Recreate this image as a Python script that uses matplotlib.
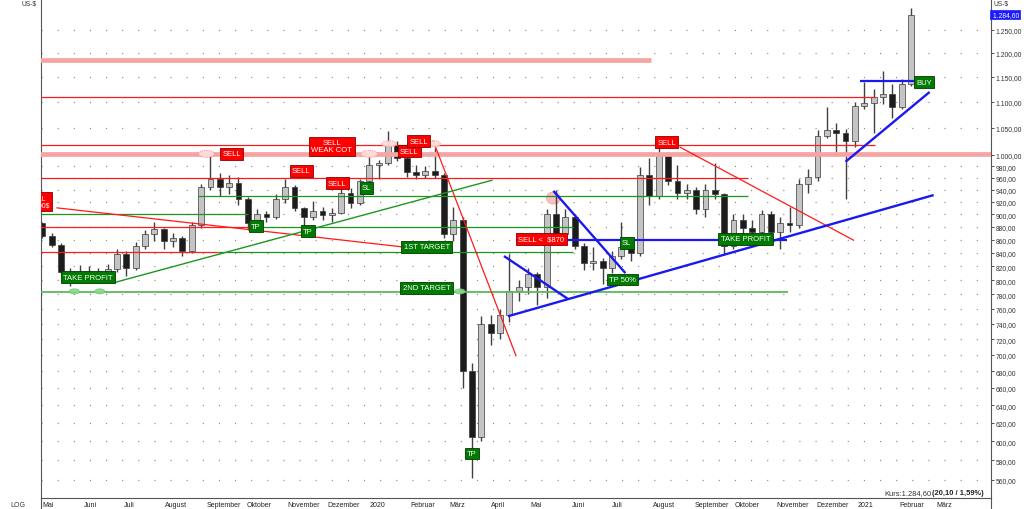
import numpy as np
import pandas as pd
import matplotlib
matplotlib.use('Agg')
import matplotlib.pyplot as plt
import matplotlib.dates as mdates
from matplotlib.patches import Ellipse
from matplotlib.transforms import ScaledTranslation, blended_transform_factory
from matplotlib.ticker import NullLocator, FixedLocator, FuncFormatter
from matplotlib.lines import Line2D

plt.rcParams['font.family'] = ['Liberation Sans', 'DejaVu Sans']

# ---------------- data (weekly OHLC, platinum US-$) ----------------
week_dates = pd.date_range('2019-05-01', periods=94, freq='7D')
opens = [885, 866, 852, 812, 803, 812, 806, 810, 816, 838, 818, 850, 868, 876, 858, 862, 842, 882, 945, 958,
         945, 952, 925, 885, 900, 895, 925, 945, 910, 895, 905, 898, 902, 935, 918, 955, 982, 985, 1018, 995,
         970, 965, 972, 965, 868, 890, 680, 605, 740, 728, 752, 785, 790, 808, 790, 900, 868, 895, 850, 825,
         828, 818, 835, 848, 840, 965, 930, 1000, 955, 935, 940, 908, 940, 932, 850, 890, 878, 872, 900, 872,
         885, 882, 950, 962, 1035, 1045, 1040, 1025, 1092, 1098, 1110, 1115, 1090, 1135]
highs = [888, 870, 854, 818, 822, 820, 818, 824, 846, 842, 856, 874, 888, 878, 870, 865, 888, 950, 1006, 968,
         965, 962, 928, 908, 905, 932, 958, 948, 912, 922, 912, 910, 945, 942, 958, 1002, 992, 1043, 1025, 998,
         982, 980, 1012, 968, 912, 895, 690, 750, 752, 760, 838, 800, 818, 812, 908, 940, 908, 900, 855, 848,
         832, 842, 888, 862, 978, 995, 1018, 1005, 982, 950, 945, 950, 986, 935, 900, 900, 890, 906, 905, 895,
         912, 958, 975, 1045, 1090, 1058, 1048, 1100, 1140, 1125, 1162, 1135, 1145, 1300]
lows = [862, 848, 808, 792, 798, 800, 800, 802, 812, 806, 815, 845, 858, 845, 848, 835, 840, 878, 940, 930,
        932, 915, 875, 880, 888, 892, 918, 905, 870, 890, 890, 888, 900, 910, 915, 952, 958, 982, 990, 962,
        958, 960, 960, 862, 858, 660, 562, 600, 712, 720, 742, 770, 780, 765, 775, 858, 855, 845, 815, 815,
        795, 810, 830, 828, 835, 915, 925, 948, 925, 925, 900, 895, 925, 838, 845, 868, 862, 865, 865, 845,
        872, 878, 935, 955, 1030, 1005, 925, 1015, 1085, 1040, 1095, 1068, 1085, 1132]
closes = [866, 852, 812, 803, 812, 806, 810, 816, 838, 818, 850, 868, 876, 858, 862, 842, 882, 945, 958, 945,
          952, 925, 885, 900, 895, 925, 945, 910, 895, 905, 898, 902, 935, 918, 955, 982, 985, 1018, 995, 970,
          965, 972, 965, 868, 890, 680, 605, 740, 728, 752, 785, 790, 808, 790, 900, 868, 895, 850, 825, 828,
          818, 835, 848, 840, 965, 930, 1000, 955, 935, 940, 908, 940, 932, 850, 890, 878, 872, 900, 872, 885,
          882, 950, 962, 1035, 1045, 1040, 1025, 1092, 1098, 1110, 1115, 1090, 1135, 1284.6]

y_ticks = [560, 580, 600, 620, 640, 660, 680, 700, 720, 740, 760, 780, 800, 820, 840, 860, 880, 900,
           920, 940, 960, 980, 1000, 1050, 1100, 1150, 1200, 1250]
month_ticks = ['2019-05-01', '2019-06-01', '2019-07-01', '2019-08-01', '2019-09-01', '2019-10-01',
               '2019-11-01', '2019-12-01', '2020-01-01', '2020-02-01', '2020-03-01', '2020-04-01',
               '2020-05-01', '2020-06-01', '2020-07-01', '2020-08-01', '2020-09-01', '2020-10-01',
               '2020-11-01', '2020-12-01', '2021-01-01', '2021-02-01', '2021-03-01']
month_labels = ['Mai', 'Juni', 'Juli', 'August', 'September', 'Oktober', 'November', 'Dezember', '2020',
                'Februar', 'März', 'April', 'Mai', 'Juni', 'Juli', 'August', 'September', 'Oktober',
                'November', 'Dezember', '2021', 'Februar', 'März']

# horizontal levels: (price, start, end)
red_levels = [(1110, '2019-04-20', '2021-01-14'), (1018, '2019-04-20', '2021-01-14'),
              (960, '2019-04-20', '2020-10-11'), (880, '2019-04-20', '2019-10-02'),
              (841, '2019-04-20', '2019-09-10')]
band_levels = [(1185, '2019-04-20', '2020-07-30'), (1001, '2019-04-20', '2021-05-01')]
green_levels = [(929, '2019-08-26', '2020-10-11'), (900, '2019-04-20', '2019-10-02'),
                (880, '2019-10-02', '2020-06-02'), (841, '2019-09-10', '2020-06-02')]
light_green_levels = [(783, '2019-04-20', '2020-11-10')]
blue_levels = [(860, '2020-04-20', '2020-11-09'), (1142, '2021-01-03', '2021-02-12')]

# trend lines: (start date, start price, end date, end price)
red_trends = [('2019-05-12', 910, '2020-01-25', 849), ('2020-02-18', 1025, '2020-04-20', 699),
              ('2020-08-21', 1014, '2020-12-29', 859)]
green_trends = [('2019-06-25', 797, '2020-04-02', 956)]
blue_trends = [('2020-04-11', 835, '2020-05-29', 773.5), ('2020-04-14', 750, '2021-02-27', 931),
               ('2020-05-18', 938, '2020-07-11', 810), ('2020-12-23', 988, '2021-02-24', 1119)]

# signal boxes: (text, date, price, kind)
signals = [('SELL', '2019-09-20', 1002, 'r'), ('SELL', '2019-11-11', 972, 'r'),
           ('SELL\nWEAK COT', '2019-12-04', 1016, 'r'), ('SELL', '2019-12-08', 951, 'r'),
           ('SL', '2019-12-30', 943, 'g'), ('SELL', '2020-01-31', 1007, 'r'),
           ('SELL', '2020-02-07', 1025, 'r'), ('TP', '2019-10-08', 881, 'g'),
           ('TP', '2019-11-16', 873, 'g'), ('1ST TARGET', '2020-02-13', 849, 'g'),
           ('2ND TARGET', '2020-02-13', 789, 'g'), ('TAKE PROFIT', '2019-06-04', 804, 'g'),
           ('TP', '2020-03-18', 587, 'g'), ('SELL <  $870', '2020-05-09', 861, 'r'),
           ('SL', '2020-07-12', 855, 'g'), ('TP 50%', '2020-07-09', 801, 'g'),
           ('TAKE PROFIT', '2020-10-09', 861, 'g'), ('SELL', '2020-08-11', 1023, 'r'),
           ('BUY', '2021-02-20', 1139, 'g')]
clipped_signal = ('SELL\n< 1000$', '2019-04-27', 920)

# highlight ellipses: (date, price, width px, height px, kind)
marks = [('2019-09-01', 1002, 16, 7, 'r'), ('2020-01-01', 1002, 17, 7, 'r'),
         ('2020-01-16', 1020, 15, 6, 'r'), ('2020-02-19', 1020, 11, 6, 'r'),
         ('2019-05-25', 784, 10, 5, 'g'), ('2019-06-13', 784, 10, 5, 'g'),
         ('2020-03-09', 784, 10, 5, 'g')]
filled_marks = [('2020-05-18', 926, 14, 12)]

last_price = 1284.6

# ---------------- figure ----------------
W, H = 1024, 510
fig = plt.figure(figsize=(W / 100, H / 100), dpi=100)
fig.patch.set_facecolor('white')
ax = fig.add_axes([41 / W, 11 / H, 950 / W, 499 / H])
ax.set_yscale('log')

def d(s):
    return mdates.date2num(pd.Timestamp(s).to_pydatetime())

xs = mdates.date2num(week_dates.to_pydatetime())

RED = '#ff1a1a'
GREEN = '#1e961e'
BLUE = '#1a1af0'

# grid rows of dots
for v in y_ticks:
    ax.axhline(v, color='#8c8c8c', lw=0.9, ls=(0, (0.9, 12)), zorder=0.5)

# candles
for x, o, h, l, c in zip(xs, opens, highs, lows, closes):
    ax.vlines(x, l, h, color='#404040', lw=1.0, zorder=2)
    lo, hi = min(o, c), max(o, c)
    if hi - lo < 1:
        hi = lo + 1
    up = c >= o
    ax.bar(x, hi - lo, bottom=lo, width=4.4, color='#c4c4c4' if up else '#1c1c1c',
           edgecolor='#3a3a3a', lw=0.5, zorder=2.2)

# horizontal levels
for p, s, e in band_levels:
    ax.hlines(p, d(s), d(e), color='#f6a3a3', lw=3.4, zorder=3)
for p, s, e in red_levels:
    ax.hlines(p, d(s), d(e), color=RED, lw=0.9, zorder=3.1)
for p, s, e in green_levels:
    ax.hlines(p, d(s), d(e), color=GREEN, lw=0.9, zorder=3.1)
for p, s, e in light_green_levels:
    ax.hlines(p, d(s), d(e), color='#5cb85c', lw=1.3, zorder=3.1)
for p, s, e in blue_levels:
    ax.hlines(p, d(s), d(e), color=BLUE, lw=1.6, zorder=3.2)

# trend lines
for s, p0, e, p1 in red_trends:
    ax.plot([d(s), d(e)], [p0, p1], color=RED, lw=0.9, zorder=3.1)
for s, p0, e, p1 in green_trends:
    ax.plot([d(s), d(e)], [p0, p1], color=GREEN, lw=1.0, zorder=3.1)
for s, p0, e, p1 in blue_trends:
    ax.plot([d(s), d(e)], [p0, p1], color=BLUE, lw=1.7, zorder=3.2, solid_capstyle='butt')

# ellipses
for s, p, w, h, k in marks:
    tr = fig.dpi_scale_trans + ScaledTranslation(d(s), p, ax.transData)
    if k == 'r':
        e = Ellipse((0, 0), w / 100, h / 100, transform=tr, fc='#ffe0e0', ec='#ff8a8a',
                    lw=0.8, ls=(0, (1, 1)), zorder=4, alpha=0.9)
    else:
        e = Ellipse((0, 0), w / 100, h / 100, transform=tr, fc='#8fd88f', ec='#6cc86c',
                    lw=0.6, zorder=4, alpha=0.9)
    ax.add_artist(e)
for s, p, w, h in filled_marks:
    tr = fig.dpi_scale_trans + ScaledTranslation(d(s), p, ax.transData)
    ax.add_artist(Ellipse((0, 0), w / 100, h / 100, transform=tr, fc='#f7b5b5', ec='#f3a0a0',
                          lw=0.6, zorder=1.5, alpha=0.85))

# signal boxes
for txt, s, p, k in signals:
    fc = '#ff0000' if k == 'r' else '#007a00'
    ec = '#8a0000' if k == 'r' else '#003c00'
    ax.text(d(s), p, txt, ha='center', va='center', color='white', fontsize=5.5,
            linespacing=1.05, zorder=6,
            bbox=dict(boxstyle='square,pad=0.3', fc=fc, ec=ec, lw=0.6))
txt, s, p = clipped_signal
t = ax.text(d(s), p, txt, ha='center', va='center', color='white', fontsize=5.0,
            linespacing=1.0, zorder=6,
            bbox=dict(boxstyle='square,pad=0.35', fc='#ff0000', ec='#8a0000', lw=0.6))
t.set_clip_on(True)
t.set_clip_path(ax.patch)

# axes limits and ticks
ax.set_xlim(d('2019-04-30'), d('2021-04-11'))
ax.set_ylim(542.3, 1320.9)
ax.yaxis.set_minor_locator(NullLocator())
ax.yaxis.set_major_locator(FixedLocator(y_ticks))

def de_fmt(v, pos=None):
    s = f"{v:,.2f}"
    return s.replace(',', 'X').replace('.', ',').replace('X', '.')

ax.yaxis.set_major_formatter(FuncFormatter(de_fmt))
ax.yaxis.tick_right()
ax.tick_params(axis='y', which='major', direction='out', length=2.2, width=0.6, pad=1.2,
               labelsize=4.9, colors='#333333')
ax.set_xticks([d(m) for m in month_ticks])
ax.set_xticklabels(month_labels, ha='left')
ax.tick_params(axis='x', length=0, pad=2.2, labelsize=5.0, colors='#222222')

for sp in ['top']:
    ax.spines[sp].set_visible(False)
for sp in ['left', 'right', 'bottom']:
    ax.spines[sp].set_color('#555555')
    ax.spines[sp].set_linewidth(0.8)

# price box on right axis
bt = blended_transform_factory(ax.transAxes, ax.transData)
ax.text(1.0, last_price, ' ' + de_fmt(last_price), transform=bt, ha='left', va='center',
        fontsize=4.9, color='white', zorder=7, clip_on=False,
        bbox=dict(boxstyle='square,pad=0.15', fc='#1a1aff', ec='#1a1aff', lw=0.5))

# extended vertical separators through the date row
fig.add_artist(Line2D([41 / W, 41 / W], [0, 11 / H], color='#555555', lw=0.8))
fig.add_artist(Line2D([991 / W, 991 / W], [0, 11 / H], color='#555555', lw=0.8))

# figure texts
fig.text(993 / W, 1 - 4 / H, 'US-$', ha='left', va='center', fontsize=4.8, color='#333333')
fig.text(22 / W, 1 - 4 / H, 'US-$', ha='left', va='center', fontsize=4.8, color='#333333')
fig.text(18 / W, 1 - 506 / H, 'LOG', ha='center', va='center', fontsize=5.0, color='#333333')
bold_t = fig.text(984 / W, 1 - 494 / H, '(20,10 / 1,59%)', ha='right', va='center', fontsize=5.4,
                  color='#222222', fontweight='bold')
fig.canvas.draw()
bx0 = bold_t.get_window_extent().x0
fig.text((bx0 - 1) / W, 1 - 494 / H, 'Kurs:1.284,60', ha='right', va='center', fontsize=5.4,
         color='#333333')

fig.savefig('out.png', dpi=100, facecolor='white')
